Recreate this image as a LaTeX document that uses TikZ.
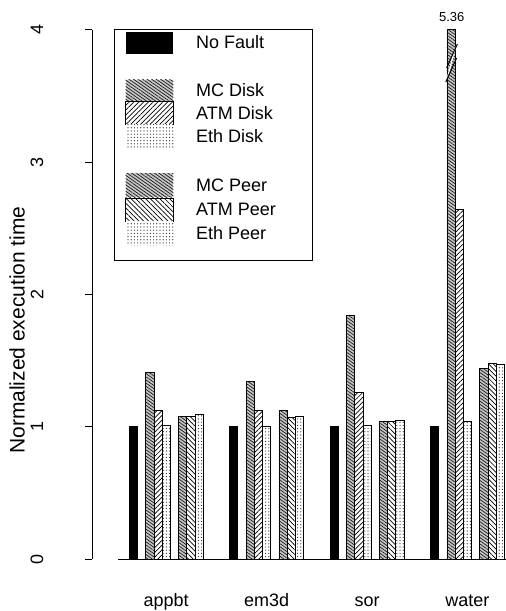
\documentclass[tikz,border=0pt]{standalone}
\usepackage{fontspec}
\setmainfont{Liberation Sans}
\usetikzlibrary{patterns.meta}
\tikzset{
  barline/.style={draw=black, line width=0.7pt},
  nofault/.style={fill=black},
  mcfill/.style={fill=gray!45, postaction={pattern={Lines[angle=-35,distance=2.6pt,line width=0.7pt]}, pattern color=black!90}},
  atmdisk/.style={fill=white, postaction={pattern={Lines[angle=45,distance=3.4pt,line width=0.7pt]}, pattern color=black}},
  atmpeer/.style={fill=white, postaction={pattern={Lines[angle=-45,distance=3.4pt,line width=0.7pt]}, pattern color=black}},
  ethfill/.style={fill=white, postaction={pattern={Dots[distance=3.2pt,radius=0.6pt]}, pattern color=black!85}},
  lab/.style={font=\fontsize{18}{21}\selectfont, inner sep=0pt},
  ylab/.style={font=\fontsize{21}{24}\selectfont, inner sep=0pt},
  small/.style={font=\fontsize{13}{15}\selectfont, inner sep=0pt}
}
\newcommand\mybars[8]{%
  \pgfmathsetmacro\gx{129.2+100.4*#1}%
  \draw[barline,nofault] (\gx,559) rectangle ({\gx+8.23},{559-132.3*#2});
  \draw[barline,mcfill]  ({\gx+2*8.23},559) rectangle ({\gx+3*8.23},{559-132.3*#3});
  \draw[barline,atmdisk] ({\gx+3*8.23},559) rectangle ({\gx+4*8.23},{559-132.3*#4});
  \draw[barline,ethfill] ({\gx+4*8.23},559) rectangle ({\gx+5*8.23},{559-132.3*#5});
  \draw[barline,mcfill]  ({\gx+6*8.23},559) rectangle ({\gx+7*8.23},{559-132.3*#6});
  \draw[barline,atmpeer] ({\gx+7*8.23},559) rectangle ({\gx+8*8.23},{559-132.3*#7});
  \draw[barline,ethfill] ({\gx+8*8.23},559) rectangle ({\gx+9*8.23},{559-132.3*#8});
}
\begin{document}
\begin{tikzpicture}[x=1pt,y=-1pt]
\useasboundingbox[fill=white] (0,0) rectangle (506,611);
% axis
\draw[line width=0.7pt] (92,559) -- (92,29.8);
\foreach \v in {0,...,4}{
  \draw[line width=0.7pt] (85,{559-132.3*\v}) -- (92,{559-132.3*\v});
  \node[lab, rotate=90] (tick\v) at (37,{559-132.3*\v}) {\v};
}
\node[ylab, rotate=90] (ylabel) at (17,330) {Normalized execution time};
% baseline
\draw[line width=0.7pt] (118,559) -- (506,559);
% bars
\mybars{0}{1}{1.41}{1.12}{1.01}{1.08}{1.08}{1.09}
\mybars{1}{1}{1.34}{1.12}{1.00}{1.12}{1.07}{1.08}
\mybars{2}{1}{1.84}{1.26}{1.01}{1.04}{1.04}{1.05}
\mybars{3}{1}{4.0}{2.64}{1.04}{1.44}{1.48}{1.47}
% break on water MC Disk
\fill[white] (446.2,80) -- (449.5,72) -- (456.8,44) -- (453.5,52) -- cycle;
\draw[line width=1pt] (445.8,82) -- (456.6,58);
\draw[line width=1pt] (446.6,68) -- (457.4,44);
\node[small] (val536) at (451.7,16.7) {5.36};
% categories
\foreach \n/\t in {0/appbt,1/em3d,2/sor,3/water}{
  \node[lab, anchor=base] (cat\n) at ({129.2+100.4*\n+37.0},606) {\t};
}
% legend
\draw[line width=0.7pt] (114,29.3) rectangle (312,260);
\fill[nofault] (125.7,31.5) rectangle (173.3,53.5);
\node[lab, anchor=west] (lgnf) at (196,42.5) {No Fault};
\fill[mcfill] (125.7,79.5) rectangle (173.3,101.7);
\node[lab, anchor=west] (lgmcd) at (196,90.5) {MC Disk};
\draw[barline,atmdisk] (125.7,101.7) rectangle (173.3,124.3);
\node[lab, anchor=west] (lgatmd) at (196,113) {ATM Disk};
\fill[ethfill] (125.7,124.3) rectangle (173.3,148.3);
\node[lab, anchor=west] (lgethd) at (196,136.5) {Eth Disk};
\fill[mcfill] (125.7,173.3) rectangle (173.3,197.3);
\node[lab, anchor=west] (lgmcp) at (196,185) {MC Peer};
\draw[barline,atmpeer] (125.7,198.3) rectangle (173.3,221);
\node[lab, anchor=west] (lgatmp) at (196,209.7) {ATM Peer};
\fill[ethfill] (125.7,221) rectangle (173.3,245);
\node[lab, anchor=west] (lgethp) at (196,233) {Eth Peer};
\end{tikzpicture}
\end{document}
